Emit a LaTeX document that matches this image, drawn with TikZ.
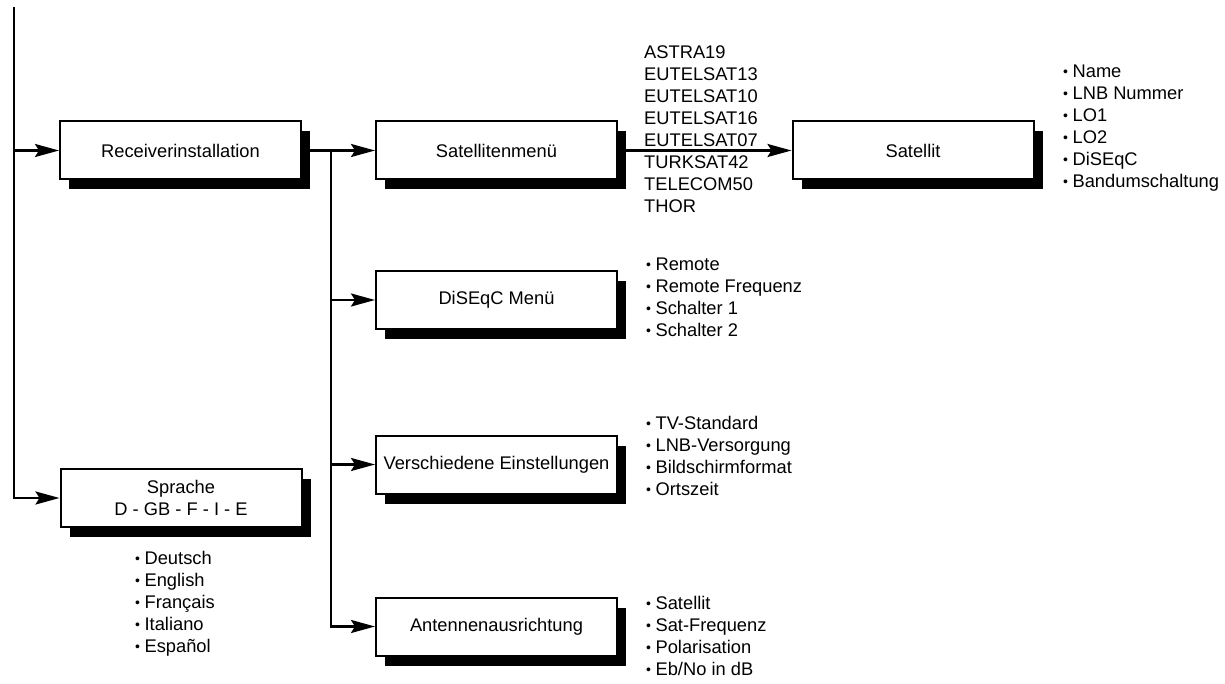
\documentclass[tikz,border=0pt]{standalone}
\usepackage{fontspec}
\setmainfont{Liberation Sans}
\usetikzlibrary{arrows.meta,shadows}
\newcommand\bul{\raisebox{1pt}{\fontsize{14}{14}\selectfont•}\hspace{4.5pt}}
\begin{document}
\begin{tikzpicture}[x=1pt,y=-1pt,
 menubox/.style={draw,line width=2pt,fill=white,minimum width=241pt,minimum height=58pt,inner sep=0pt,align=center,
   font=\fontsize{18.3}{22}\selectfont,
   drop shadow={shadow xshift=9pt,shadow yshift=-10pt,fill=black,opacity=1,draw=none}},
 itemlist/.style={inner sep=0pt,anchor=west,align=left,font=\fontsize{18.3}{22}\selectfont},
 conn/.style={line width=2.5pt},
 arr/.style={conn,-{Stealth[length=24pt,width=13pt,inset=4pt]}}]
\useasboundingbox (0,0) rectangle (1225,684);

\node[menubox] (rec) at (180.5,150.5) {Receiverinstallation};
\node[menubox] (satm) at (496.5,150.5) {Satellitenmenü};
\node[menubox] (satl) at (913,150.5) {Satellit};
\node[menubox] (dis) at (496.5,300) {DiSEqC Menü};
\node[menubox] (ver) at (496.5,464.5) {Verschiedene Einstellungen};
\node[menubox] (ant) at (496.5,626.5) {Antennenausrichtung};
\node[menubox] (spr) at (181,498) {Sprache\\D - GB - F - I - E};

\node[itemlist] (satlist) at (644,129) {ASTRA19\\EUTELSAT13\\EUTELSAT10\\EUTELSAT16\\EUTELSAT07\\TURKSAT42\\TELECOM50\\THOR};
\node[itemlist] (satlitems) at (1063,128.5) {\bul Name\\\bul LNB Nummer\\\bul LO1\\\bul LO2\\\bul DiSEqC\\\bul Bandumschaltung};
\node[itemlist] (disitems) at (646,297) {\bul Remote\\\bul Remote Frequenz\\\bul Schalter 1\\\bul Schalter 2};
\node[itemlist] (veritems) at (646,456) {\bul TV-Standard\\\bul LNB-Versorgung\\\bul Bildschirmformat\\\bul Ortszeit};
\node[itemlist] (antitems) at (646,636) {\bul Satellit\\\bul Sat-Frequenz\\\bul Polarisation\\\bul Eb/No in dB};
\node[itemlist] (spritems) at (135,603.5) {\bul Deutsch\\\bul English\\\bul Français\\\bul Italiano\\\bul Español};

\coordinate (top) at (14,7);
\coordinate (br) at (331,150.5);
\draw[arr] (top) |- (spr.west);
\draw[arr] (top |- rec.west) -- (rec.west);
\draw[arr] (rec.east) -- (satm.west);
\draw[arr] (br) |- (ant.west);
\draw[arr] (br |- dis.west) -- (dis.west);
\draw[arr] (br |- ver.west) -- (ver.west);
\draw[arr] (satm.east) -- (satl.west);
\end{tikzpicture}
\end{document}
